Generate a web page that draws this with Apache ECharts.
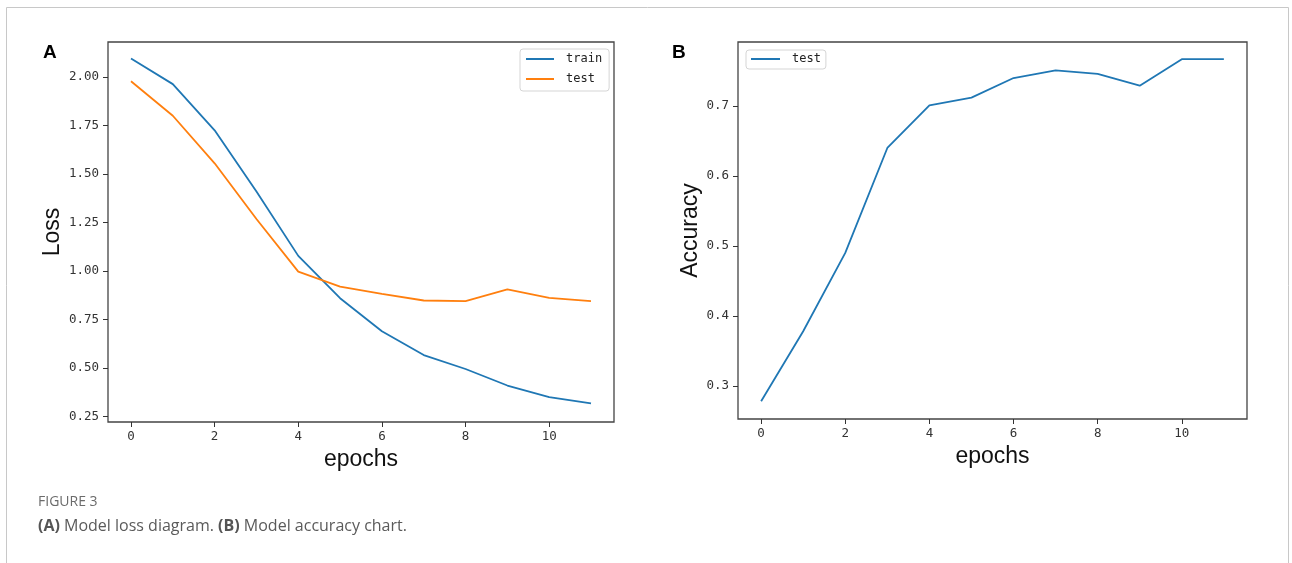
<!DOCTYPE html>
<html>
<head>
<meta charset="utf-8">
<script src="https://cdn.jsdelivr.net/npm/echarts@6/dist/echarts.min.js"></script>
<style>
  html, body { margin: 0; padding: 0; background: #fff; }
  #fig { width: 1292px; height: 563px; }
</style>
</head>
<body>
<div id="fig"></div>
<script>
// values
var epochs = [0, 1, 2, 3, 4, 5, 6, 7, 8, 9, 10, 11];
var trainLoss = [2.095, 1.963, 1.725, 1.41, 1.078, 0.86, 0.69, 0.567, 0.495, 0.41, 0.35, 0.318];
var testLoss = [1.978, 1.80, 1.555, 1.268, 0.997, 0.92, 0.882, 0.848, 0.845, 0.905, 0.862, 0.845];
var testAcc = [0.278, 0.378, 0.49, 0.64, 0.701, 0.712, 0.740, 0.751, 0.746, 0.729, 0.767, 0.767];

var xTicks = [0, 2, 4, 6, 8, 10];
var lossTicks = [0.25, 0.5, 0.75, 1.0, 1.25, 1.5, 1.75, 2.0];
var accTicks = [0.3, 0.4, 0.5, 0.6, 0.7];

var BLUE = '#1f77b4', ORANGE = '#ff7f0e';
var tickFont = "'DejaVu Sans Mono', monospace";

function pairs(ys) {
  return ys.map(function (v, i) { return [epochs[i], v]; });
}

function xAxisFor(idx) {
  return {
    gridIndex: idx, type: 'value', min: -0.55, max: 11.55,
    name: 'epochs', nameLocation: 'middle', nameGap: 25,
    nameTextStyle: { fontFamily: 'Liberation Sans, Arial', fontSize: 23, color: '#111' },
    axisLine: { show: false, onZero: false },
    splitLine: { show: false },
    axisTick: { show: true, inside: false, length: 5, customValues: xTicks, lineStyle: { color: '#333', width: 1 } },
    axisLabel: { customValues: xTicks, margin: 8, fontFamily: tickFont, fontSize: 12.5, color: '#333' }
  };
}

function yAxisFor(idx, name, min, max, ticks, dec, gap) {
  return {
    gridIndex: idx, type: 'value', min: min, max: max,
    name: name, nameLocation: 'middle', nameGap: gap,
    nameTextStyle: { fontFamily: 'Liberation Sans, Arial', fontSize: 23, color: '#111' },
    axisLine: { show: false, onZero: false },
    splitLine: { show: false },
    axisTick: { show: true, inside: false, length: 5, customValues: ticks, lineStyle: { color: '#333', width: 1 } },
    axisLabel: {
      customValues: ticks, margin: 9, fontFamily: tickFont, fontSize: 12.5, color: '#333',
      formatter: function (v) { return v.toFixed(dec); }
    }
  };
}

var chart = echarts.init(document.getElementById('fig'), null, { renderer: 'canvas' });

chart.setOption({
  backgroundColor: '#fff',
  animation: false,
  title: [
    { text: 'A', left: 43, top: 43, textStyle: { fontFamily: 'Liberation Sans, Arial', fontWeight: 'bold', fontSize: 19, color: '#000' }, padding: 0 },
    { text: 'B', left: 672, top: 43, textStyle: { fontFamily: 'Liberation Sans, Arial', fontWeight: 'bold', fontSize: 19, color: '#000' }, padding: 0 },
    { text: 'FIGURE 3', left: 38, top: 495, padding: 0,
      textStyle: { fontFamily: 'Open Sans', fontSize: 14, fontWeight: 'normal', color: '#6b6b6b' } },
    { text: '{b|(A)} Model loss diagram. {b|(B)} Model accuracy chart.', left: 38, top: 518, padding: 0,
      textStyle: {
        fontFamily: 'Open Sans', fontSize: 16, fontWeight: 'normal', color: '#5a5a5a',
        rich: { b: { fontFamily: 'Open Sans', fontSize: 16, fontWeight: 'bold', color: '#555' } }
      } }
  ],
  graphic: [
    { type: 'rect', shape: { x: 6.5, y: 7.5, width: 1282, height: 600 },
      style: { fill: 'none', stroke: '#c8c8c8', lineWidth: 1 }, silent: true, z: -10 }
  ],
  legend: [
    {
      orient: 'vertical', left: 520, top: 49,
      data: ['train', 'test'],
      icon: 'rect', itemWidth: 28, itemHeight: 2, itemGap: 8,
      padding: [4, 7, 6, 6],
      backgroundColor: '#fff', borderColor: '#d5d5d5', borderWidth: 1, borderRadius: 3,
      textStyle: { fontFamily: tickFont, fontSize: 12, color: '#222', padding: [0, 0, 0, 7] }
    },
    {
      orient: 'vertical', left: 746, top: 50,
      data: [{ name: 'test', itemStyle: { color: BLUE } }],
      icon: 'rect', itemWidth: 29, itemHeight: 2,
      padding: [3, 5, 4, 5],
      backgroundColor: '#fff', borderColor: '#d5d5d5', borderWidth: 1, borderRadius: 3,
      textStyle: { fontFamily: tickFont, fontSize: 12, color: '#222', padding: [0, 0, 0, 7] }
    }
  ],
  grid: [
    { left: 108, top: 42, width: 506, height: 380, show: true, borderColor: '#444', borderWidth: 1.3, backgroundColor: 'transparent' },
    { left: 738, top: 42, width: 509, height: 377, show: true, borderColor: '#444', borderWidth: 1.3, backgroundColor: 'transparent' }
  ],
  xAxis: [xAxisFor(0), xAxisFor(1)],
  yAxis: [
    yAxisFor(0, 'Loss', 0.222, 2.18, lossTicks, 2, 44),
    yAxisFor(1, 'Accuracy', 0.2525, 0.7915, accTicks, 1, 36)
  ],
  series: [
    { name: 'train', type: 'line', xAxisIndex: 0, yAxisIndex: 0, data: pairs(trainLoss),
      showSymbol: false, lineStyle: { color: BLUE, width: 1.8 }, itemStyle: { color: BLUE } },
    { name: 'test', type: 'line', xAxisIndex: 0, yAxisIndex: 0, data: pairs(testLoss),
      showSymbol: false, lineStyle: { color: ORANGE, width: 1.8 }, itemStyle: { color: ORANGE } },
    { name: 'test', type: 'line', xAxisIndex: 1, yAxisIndex: 1, data: pairs(testAcc),
      showSymbol: false, lineStyle: { color: BLUE, width: 1.8 }, itemStyle: { color: BLUE } }
  ]
});
</script>
</body>
</html>
